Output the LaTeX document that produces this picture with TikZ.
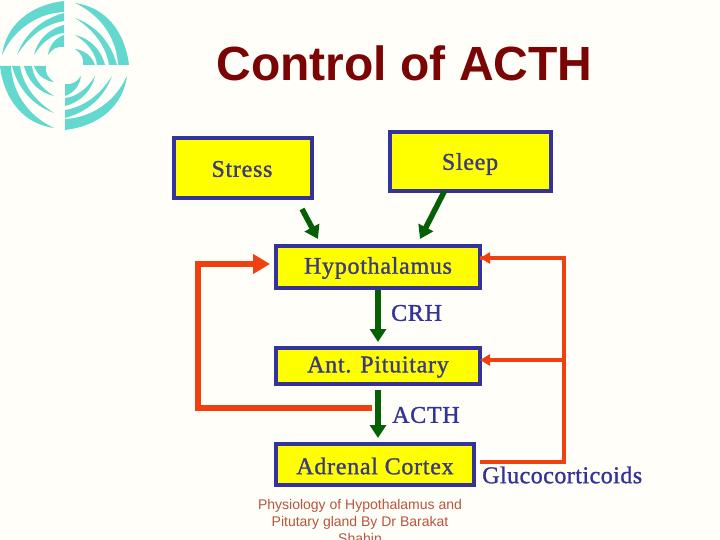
\documentclass[tikz,border=0pt]{standalone}
\usepackage{fontspec}
\setmainfont{Liberation Serif}
\newfontfamily\arialf{Liberation Sans}
\newfontfamily\boxf[FakeBold=1.2,LetterSpace=3]{Liberation Serif}
\newfontfamily\glucof[FakeBold=1.2,LetterSpace=2]{Liberation Serif}
\usetikzlibrary{arrows.meta,calc}
\definecolor{bgc}{RGB}{255,254,249}
\definecolor{navy}{RGB}{51,51,153}
\definecolor{boxy}{RGB}{255,255,0}
\definecolor{boxtext}{RGB}{58,58,128}
\definecolor{titlec}{RGB}{122,5,5}
\definecolor{greenc}{RGB}{5,96,5}
\definecolor{redc}{RGB}{240,64,15}
\definecolor{logoc}{RGB}{98,216,206}
\definecolor{notec}{RGB}{184,85,58}
\tikzset{
  yellowbox/.style={draw=navy,line width=4pt,fill=boxy,inner sep=0pt},
  boxlabel/.style={text=boxtext,inner sep=0pt,font=\boxf\fontsize{24}{26}\selectfont},
  gflow/.style={draw=greenc,line width=5.5pt,-{Triangle[length=13pt,width=16pt]}},
  fatred/.style={draw=redc,line width=6pt,line join=miter,-{Triangle[length=17pt,width=19pt]}},
  thinred/.style={draw=redc,line width=4pt,line join=miter},
  thinhead/.style={-{Triangle[length=10pt,width=11pt]}},
  hormone/.style={text=navy,inner sep=0pt,font=\boxf\fontsize{24}{26}\selectfont},
}
\begin{document}
\begin{tikzpicture}[x=1pt,y=-1pt]
\useasboundingbox (0,0) rectangle (720,540);
\clip (0,0) rectangle (720,540);
\fill[bgc] (0,0) rectangle (720,540);
% logo
\foreach \a in {0,90,180,270}{
  \begin{scope}[rotate around={\a:(64.5,65.5)}]
    \fill[logoc] (2,55) .. controls (6,25) and (30,5) .. (64,1) -- (64,12)
      .. controls (40,13) and (15,27) .. (2,55) -- cycle;
    \fill[logoc] (17,55) .. controls (25,33) and (42,19) .. (64,13) -- (64,21)
      .. controls (45,24) and (29,36) .. (17,55) -- cycle;
    \fill[logoc] (34,55) .. controls (37,41) and (48,29) .. (64,25) -- (64,33)
      .. controls (53,34) and (42,42) .. (34,55) -- cycle;
    \fill[logoc] (48,55) .. controls (49,46) and (55,38) .. (64,35) -- (64,47)
      .. controls (57,46) and (52,49) .. (48,55) -- cycle;
  \end{scope}
}
% title
\node[name=title,inner sep=0pt,text=titlec,font=\arialf\bfseries\fontsize{48}{50}\selectfont] at (404.5,63) {Control of ACTH};
% boxes
\node[yellowbox,minimum width=138pt,minimum height=60pt,name=stress] at (243,168) {};
\node[yellowbox,minimum width=161pt,minimum height=59pt,name=sleep] at (470.5,161.5) {};
\node[yellowbox,minimum width=204pt,minimum height=42pt,name=hypo] at (378,267) {};
\node[yellowbox,minimum width=204pt,minimum height=36pt,name=ant] at (378,366) {};
\node[yellowbox,minimum width=198pt,minimum height=41pt,name=adrenal] at (375,464.5) {};
% box labels
\node[boxlabel,name=lstress] at (242,169) {Stress};
\node[boxlabel,name=lsleep] at (470,164) {Sleep};
\node[boxlabel,name=lhypo] at (378,268) {Hypothalamus};
\node[boxlabel,name=lant] at (378,367) {Ant. Pituitary};
\node[boxlabel,name=ladr] at (375,466) {Adrenal Cortex};
% hormones
\node[hormone,anchor=west,name=crh] at (391,313) {CRH};
\node[hormone,anchor=west,name=acth] at (392,415) {ACTH};
\node[hormone,anchor=west,font=\glucof\fontsize{24}{26}\selectfont,name=gluco] at (482,475) {Glucocorticoids};
% note
\node[text=notec,inner sep=0pt,align=center,anchor=north,name=note,
  font=\arialf\fontsize{14}{17}\selectfont] at (360,499.5) {Physiology of Hypothalamus and\\Pitutary gland By Dr Barakat\\Shahin};
% green arrows
\coordinate (s1) at ($(stress.south)+(59,9)$);
\coordinate (s2) at ($(hypo.north west)+(44,-5)$);
\coordinate (p1) at ($(sleep.south)+(-26,-2)$);
\coordinate (p2) at ($(hypo.north)+(42,-5)$);
\draw[gflow] (s1) -- (s2);
\draw[gflow] (p1) -- (p2);
\draw[gflow,shorten >=4pt] (hypo.south) -- (ant.north);
\draw[gflow,shorten <=4pt,shorten >=4pt] (ant.south) -- ($(adrenal.north)+(3,0)$);
% red feedback
\coordinate (fa) at ($(ant.south)+(-6,22)$);
\coordinate (fb) at ($(hypo.west)+(-4,-3)$);
\draw[fatred] (fa) -- (fa -| 198,0) -- (198,0 |- fb) -- (fb);
\coordinate (ga) at ($(adrenal.east)+(4,-3)$);
\coordinate (gb) at ($(hypo.east)+(-2,-9)$);
\coordinate (gc) at ($(ant.east)+(-2,-6)$);
\draw[thinred] (ga) -- (564,0 |- ga) -- (564,0 |- gb) -- (gb);
\draw[thinred,thinhead] (564,0 |- gb) -- (gb);
\draw[thinred,thinhead] (564,0 |- gc) -- (gc);
\end{tikzpicture}
\end{document}
